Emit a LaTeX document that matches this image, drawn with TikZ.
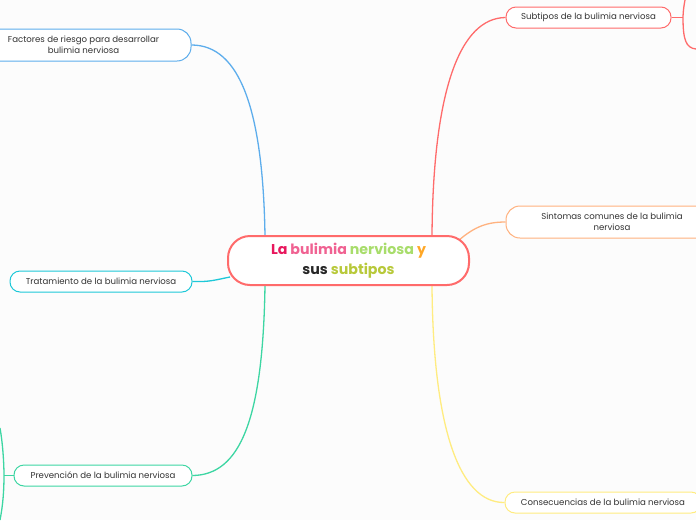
\documentclass[tikz,border=0pt]{standalone}
\usepackage{fontspec}
\setmainfont{Poppins}
\definecolor{cblue}{HTML}{5DADEC}
\definecolor{ccyan}{HTML}{1EC8D8}
\definecolor{cgreen}{HTML}{3DD6A3}
\definecolor{cred}{HTML}{FF6B6B}
\definecolor{corange}{HTML}{FFB27F}
\definecolor{cyellow}{HTML}{FFEC80}
\definecolor{ctext}{HTML}{333333}
\definecolor{tLa}{HTML}{E8175D}
\definecolor{tbul}{HTML}{F06292}
\definecolor{tner}{HTML}{A8DD6B}
\definecolor{ty}{HTML}{FFA726}
\definecolor{tsub}{HTML}{B8C93A}
\begin{document}
\begin{tikzpicture}[x=1pt,y=-1pt,
  topic/.style={draw, line width=1pt, fill=white, rounded corners=10pt, text=ctext,
    font=\fontsize{8.6}{11}\selectfont, align=center, inner sep=0pt, anchor=center},
  link/.style={line width=1.3pt}]
\useasboundingbox (0,0) rectangle (696,520);
\fill[white!99!black] (0,0) rectangle (696,520);
% topic nodes
\node[topic, draw=cred, minimum width=165pt, minimum height=21pt] (sub) at (588.5,17.5) {Subtipos de la bulimia nerviosa};
\node[topic, draw=corange, minimum width=212pt, minimum height=32pt, rounded corners=14pt] (sin) at (612,222) {Sintomas comunes de la bulimia\\nerviosa};
\node[topic, draw=cyellow, minimum width=196pt, minimum height=21pt] (con) at (603,502.5) {Consecuencias de la bulimia nerviosa};
\node[topic, draw=cblue, minimum width=215pt, minimum height=32pt, rounded corners=14pt] (fac) at (83.5,45) {Factores de riesgo para desarrollar\\bulimia nerviosa};
\node[topic, draw=ccyan, minimum width=182pt, minimum height=21pt] (tra) at (101,281.5) {Tratamiento de la bulimia nerviosa};
\node[topic, draw=cgreen, minimum width=178pt, minimum height=21pt] (pre) at (103,475.5) {Prevención de la bulimia nerviosa};
% attachment points on the central topic
\coordinate (cbl) at (265,236);
\coordinate (cgr) at (265,285);
\coordinate (ccy) at (230,277);
\coordinate (crd) at (432,236);
\coordinate (cor) at (458,241);
\coordinate (cyl) at (432,285);
% connectors
\draw[link, cblue] (cbl) .. controls (263,110) and (240,45) .. (fac.east);
\draw[link, cgreen] (cgr) .. controls (263,420) and (240,475) .. (pre.east);
\draw[link, ccyan] (ccy) .. controls (215,280) and (210,282) .. (tra.east);
\draw[link, cred] (crd) .. controls (433,90) and (460,18) .. (sub.west);
\draw[link, corange] (cor) .. controls (475,226) and (488,222) .. (sin.west);
\draw[link, cyellow] (cyl) .. controls (433,430) and (460,503) .. (con.west);
% child connectors leaving the picture
\coordinate (subj) at (683,17.5);
\coordinate (subt) at (685,0);
\coordinate (subb) at (696,49);
\draw[link, cred] (sub.east) -- (subj);
\draw[link, cred] (subt) .. controls (683,10) and (683,17.5) .. (subj) .. controls (683,40) and (686,48) .. (subb);
\coordinate (prej) at (4,475.5);
\coordinate (pret) at (0,428);
\coordinate (preb) at (0,520);
\draw[link, cgreen] (pre.west) -- (prej);
\draw[link, cgreen] (pret) .. controls (3,445) and (4,465) .. (prej) .. controls (4,490) and (3,505) .. (preb);
% central topic
\node[draw=cred, line width=2pt, fill=white, rounded corners=22pt, minimum width=241pt, minimum height=49pt,
  align=center, inner sep=0pt, font=\bfseries\fontsize{14.2}{20}\selectfont] (main) at (348.5,260.5)
  {\textcolor{tLa}{La} \textcolor{tbul}{bulimia} \textcolor{tner}{nerviosa} \textcolor{ty}{y}\\
   \textcolor{black!85}{sus} \textcolor{tsub}{subtipos}};
\end{tikzpicture}
\end{document}
